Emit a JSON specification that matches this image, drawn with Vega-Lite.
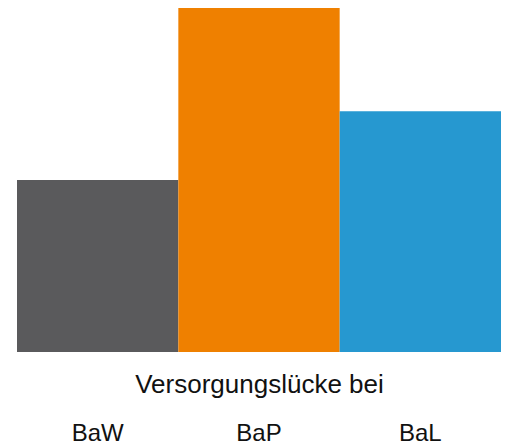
{
  "$schema": "https://vega.github.io/schema/vega-lite/v6.json",
  "width": 484,
  "height": 344,
  "autosize": "none",
  "padding": {"left": 17, "top": 8, "right": 5, "bottom": 94},
  "background": "white",
  "config": {"view": {"stroke": null}},
  "data": {
    "values": [
      {"kategorie": "BaW", "wert": 50},
      {"kategorie": "BaP", "wert": 100},
      {"kategorie": "BaL", "wert": 70}
    ]
  },
  "mark": {"type": "bar"},
  "encoding": {
    "x": {
      "field": "kategorie",
      "type": "nominal",
      "sort": null,
      "scale": {"paddingInner": 0, "paddingOuter": 0},
      "axis": {
        "title": "Versorgungslücke bei",
        "titleFont": "Liberation Sans",
        "titleFontSize": 26,
        "titleFontWeight": "normal",
        "titleColor": "#111111",
        "titleBaseline": "alphabetic",
        "titleY": 40,
        "labelFont": "Liberation Sans",
        "labelFontSize": 24,
        "labelColor": "#111111",
        "labelAngle": 0,
        "labelBaseline": "alphabetic",
        "labelPadding": 88,
        "domain": false,
        "ticks": false
      }
    },
    "y": {
      "field": "wert",
      "type": "quantitative",
      "scale": {"domain": [0, 100], "nice": false},
      "axis": null
    },
    "color": {
      "field": "kategorie",
      "type": "nominal",
      "scale": {"domain": ["BaW", "BaP", "BaL"], "range": ["#5a5a5c", "#ef8000", "#2698d0"]},
      "legend": null
    }
  }
}
